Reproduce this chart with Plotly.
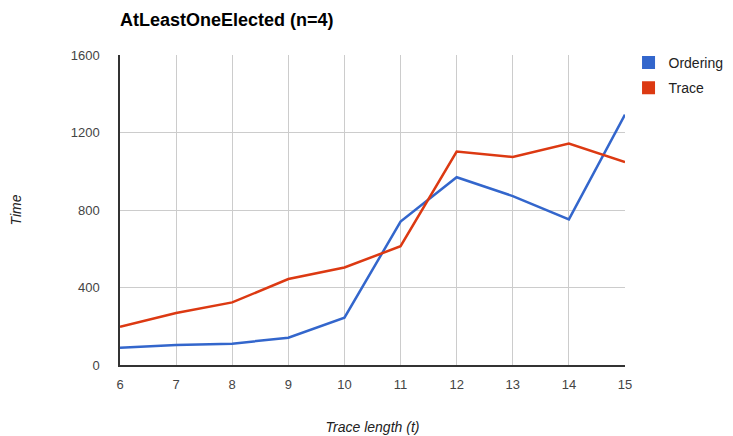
import plotly.graph_objects as go

trace_length = [6, 7, 8, 9, 10, 11, 12, 13, 14, 15]
ordering = [89, 103, 110, 141, 244, 740, 969, 872, 752, 1292]
trace = [197, 268, 323, 444, 503, 613, 1102, 1074, 1143, 1047]
y_ticks = [0, 400, 800, 1200, 1600]
series = [("Ordering", ordering, "#3366cc"), ("Trace", trace, "#dc3912")]

fig = go.Figure()
for name, vals, col in series:
    fig.add_trace(go.Scatter(x=trace_length, y=vals, mode="lines", name=name,
                             showlegend=False, line=dict(color=col, width=2.5)))
for name, vals, col in series:
    fig.add_trace(go.Scatter(x=[None], y=[None], mode="markers", name=name,
                             legendgroup=name,
                             marker=dict(symbol="square", size=13, color=col)))

# page has an 8px body margin, so figure is 8px smaller and shifted
W, H = 725, 428
fig.update_layout(
    width=W, height=H,
    margin=dict(l=112, r=108, t=47, b=71, autoexpand=False),
    paper_bgcolor="white", plot_bgcolor="white",
    font=dict(family="Liberation Sans, Arial, sans-serif", size=13, color="#444"),
    title=dict(text="<b>AtLeastOneElected (n=4)</b>", x=112/W, xanchor="left",
               y=1-12/H, yanchor="middle",
               font=dict(size=18, color="#000")),
    showlegend=True,
    legend=dict(x=1.007, y=1.026, xanchor="left", yanchor="top",
                font=dict(size=14, color="#222"), itemwidth=30, tracegroupgap=4),
    xaxis=dict(range=[6, 15], tickvals=trace_length, showgrid=True, gridcolor="#cccccc",
               gridwidth=1, showline=True, linecolor="#333", linewidth=1.5,
               ticks="", zeroline=False, tickfont=dict(size=13, color="#444"),
               ticklabelstandoff=7,
               title=dict(text="<i>Trace length (t)</i>", standoff=31,
                          font=dict(size=14, color="#222"))),
    yaxis=dict(range=[0, 1600], tickvals=y_ticks, showgrid=True, gridcolor="#cccccc",
               gridwidth=1, showline=True, linecolor="#333", linewidth=1.5,
               ticks="", zeroline=False, tickfont=dict(size=13, color="#444"),
               ticklabelstandoff=16,
               title=dict(text="<i>Time</i>", standoff=55,
                          font=dict(size=14, color="#222"))),
)

fig.write_html("out.html")
